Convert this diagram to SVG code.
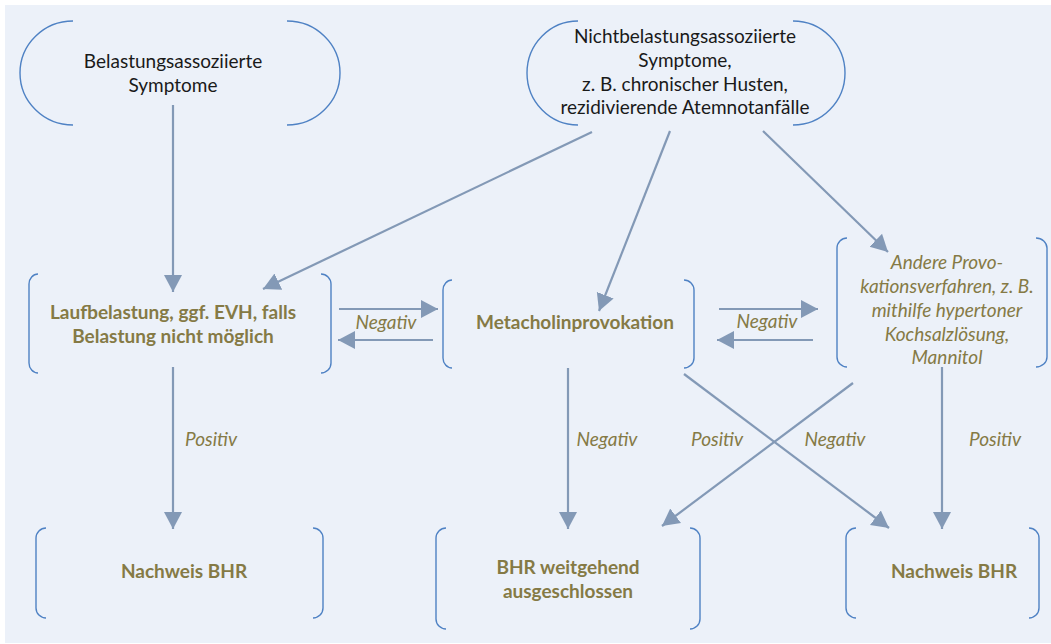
<svg xmlns="http://www.w3.org/2000/svg" width="1051" height="644" viewBox="0 0 1051 644">
<defs>
<style>
.bg{fill:#ECF1F9}
.br{fill:none;stroke:#4F82C4;stroke-width:1.4}
.t{font-family:Lato,"Liberation Sans",sans-serif;font-size:19px;fill:#1a1a1a;text-anchor:middle}
.b{font-family:Lato,"Liberation Sans",sans-serif;font-size:19px;font-weight:bold;fill:#857A45;text-anchor:middle}
.i{font-family:Lato,"Liberation Sans",sans-serif;font-size:19px;font-style:italic;fill:#857A45;text-anchor:middle}
.c{stroke:#8399B6;stroke-width:2.2;fill:none;marker-end:url(#ah)}
</style>
<marker id="ah" markerUnits="userSpaceOnUse" markerWidth="18" markerHeight="20" viewBox="0 0 18 20" refX="17" refY="10" orient="auto">
<path d="M0,1 L17,10 L0,19 Z" fill="#8399B6"/>
</marker>
</defs>
<rect class="bg" x="5" y="5" width="1046" height="638"/>
<g id="connectors">
<line class="c" x1="173" y1="105" x2="173" y2="292"/>
<line class="c" x1="592" y1="132" x2="263" y2="289"/>
<line class="c" x1="670" y1="131" x2="599" y2="311"/>
<line class="c" x1="763" y1="131" x2="888" y2="252"/>
<line class="c" x1="339" y1="309" x2="438" y2="309"/>
<line class="c" x1="433" y1="340" x2="338" y2="340"/>
<line class="c" x1="719" y1="309" x2="818" y2="309"/>
<line class="c" x1="813" y1="340" x2="717" y2="340"/>
<line class="c" x1="173" y1="367" x2="173" y2="529"/>
<line class="c" x1="568" y1="368" x2="568" y2="529"/>
<line class="c" x1="684" y1="374" x2="889" y2="528"/>
<line class="c" x1="853" y1="383" x2="662" y2="526"/>
<line class="c" x1="942" y1="367" x2="942" y2="529"/>
<text class="i" x="386" y="329">Negativ</text>
<text class="i" x="767" y="328">Negativ</text>
<text class="i" x="211" y="446">Positiv</text>
<text class="i" x="607" y="446">Negativ</text>
<text class="i" x="717" y="446">Positiv</text>
<text class="i" x="835" y="446">Negativ</text>
<text class="i" x="995" y="446">Positiv</text>
</g>
<g id="n1">
<path class="br" d="M73,21 A53,52 0 0 0 73,125"/>
<path class="br" d="M287,21 A53,52 0 0 1 287,125"/>
<text class="t" x="173" y="68">Belastungsassoziierte</text>
<text class="t" x="173" y="92">Symptome</text>
</g>
<g id="n2">
<path class="br" d="M578,21 A51,52 0 0 0 578,125"/>
<path class="br" d="M793,21 A52,52 0 0 1 793,125"/>
<text class="t" x="685" y="43">Nichtbelastungsassoziierte</text>
<text class="t" x="685" y="67">Symptome,</text>
<text class="t" x="685" y="91">z. B. chronischer Husten,</text>
<text class="t" x="685" y="114">rezidivierende Atemnotanfälle</text>
</g>
<g id="n3">
<path class="br" d="M38,274 A9,10 0 0 0 29,284 L29,363 A9,10 0 0 0 38,373"/>
<path class="br" d="M321,274 A10,10 0 0 1 331,284 L331,363 A10,10 0 0 1 321,373"/>
<text class="b" x="173" y="319">Laufbelastung, ggf. EVH, falls</text>
<text class="b" x="173" y="343">Belastung nicht möglich</text>
</g>
<g id="n4">
<path class="br" d="M452,280 A9,10 0 0 0 443,290 L443,358 A9,10 0 0 0 452,368"/>
<path class="br" d="M684,280 A10,10 0 0 1 694,290 L694,358 A10,10 0 0 1 684,368"/>
<text class="b" x="575" y="329">Metacholinprovokation</text>
</g>
<g id="n5">
<path class="br" d="M847,238 A10,10 0 0 0 837,248 L837,357 A10,10 0 0 0 847,367"/>
<path class="br" d="M1036,238 A11,10 0 0 1 1047,248 L1047,357 A11,10 0 0 1 1036,367"/>
<text class="i" x="947" y="269">Andere Provo-</text>
<text class="i" x="947" y="293">kationsverfahren, z. B.</text>
<text class="i" x="947" y="317">mithilfe hypertoner</text>
<text class="i" x="947" y="341">Kochsalzlösung,</text>
<text class="i" x="947" y="364">Mannitol</text>
</g>
<g id="n6">
<path class="br" d="M46,528 A10,10 0 0 0 36,538 L36,608 A10,10 0 0 0 46,618"/>
<path class="br" d="M313,528 A10,10 0 0 1 323,538 L323,608 A10,10 0 0 1 313,618"/>
<text class="b" x="184" y="578">Nachweis BHR</text>
</g>
<g id="n7">
<path class="br" d="M446,528 A10,10 0 0 0 436,538 L436,619 A10,10 0 0 0 446,629"/>
<path class="br" d="M690,528 A10,10 0 0 1 700,538 L700,619 A10,10 0 0 1 690,629"/>
<text class="b" x="568" y="574">BHR weitgehend</text>
<text class="b" x="568" y="598">ausgeschlossen</text>
</g>
<g id="n8">
<path class="br" d="M856,528 A10,10 0 0 0 846,538 L846,608 A10,10 0 0 0 856,618"/>
<path class="br" d="M1029,528 A10,10 0 0 1 1039,538 L1039,608 A10,10 0 0 1 1029,618"/>
<text class="b" x="954" y="578">Nachweis BHR</text>
</g>
</svg>
